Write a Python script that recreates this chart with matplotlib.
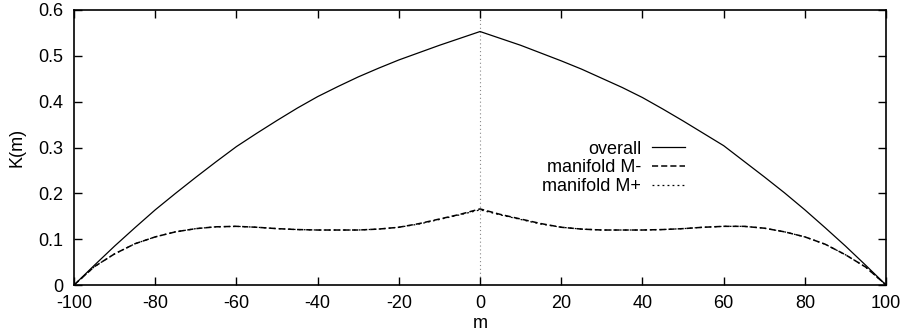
import matplotlib
matplotlib.use("Agg")
import matplotlib.pyplot as plt

plt.rcParams['font.family'] = ['Liberation Sans', 'DejaVu Sans']
plt.rcParams['font.size'] = 13
plt.rcParams['axes.unicode_minus'] = False

# K(m) sampled every 5 units of m
m = list(range(-100, 101, 5))

k_overall = [0.000, 0.043, 0.085, 0.125, 0.164, 0.200, 0.235, 0.269, 0.302, 0.331,
             0.359, 0.386, 0.411, 0.433, 0.454, 0.473, 0.491, 0.507, 0.523, 0.538,
             0.553,
             0.538, 0.523, 0.506, 0.489, 0.471, 0.451, 0.431, 0.409, 0.384, 0.358,
             0.331, 0.304, 0.270, 0.236, 0.201, 0.164, 0.125, 0.085, 0.043, 0.000]

k_minus = [0.000, 0.040, 0.068, 0.090, 0.105, 0.116, 0.123, 0.127, 0.128, 0.126,
           0.123, 0.121, 0.120, 0.120, 0.120, 0.122, 0.126, 0.134, 0.144, 0.154,
           0.166,
           0.154, 0.144, 0.134, 0.126, 0.122, 0.120, 0.120, 0.120, 0.121, 0.123,
           0.126, 0.128, 0.128, 0.124, 0.116, 0.105, 0.089, 0.066, 0.039, 0.000]

k_plus = [0.000, 0.040, 0.068, 0.090, 0.105, 0.116, 0.123, 0.127, 0.128, 0.126,
          0.123, 0.121, 0.120, 0.120, 0.120, 0.122, 0.126, 0.133, 0.143, 0.153,
          0.164,
          0.153, 0.143, 0.133, 0.126, 0.122, 0.120, 0.120, 0.120, 0.121, 0.123,
          0.126, 0.128, 0.128, 0.124, 0.116, 0.105, 0.089, 0.066, 0.039, 0.000]

labels = ['overall', 'manifold M-', 'manifold M+']

fig = plt.figure(figsize=(9.06, 3.33), dpi=100)
ax = fig.add_axes([0.0817, 0.1441, 0.8963, 0.8259])

# zero axis
ax.axvline(0, color='#888888', lw=0.8, ls=(0, (1, 2.5)), zorder=1)

ax.plot(m, k_overall, color='black', lw=0.9, label=labels[0])
ax.plot(m, k_minus, color='black', lw=1.1, ls=(0, (4, 2)), label=labels[1])
ax.plot(m, k_plus, color='black', lw=0.9, ls=(0, (1.5, 2.5)), label=labels[2])

ax.set_xlim(-100, 100)
ax.set_ylim(0, 0.6)
ax.set_xticks(range(-100, 101, 20))
ax.set_yticks([0, 0.1, 0.2, 0.3, 0.4, 0.5, 0.6])
ax.set_yticklabels(['0', '0.1', '0.2', '0.3', '0.4', '0.5', '0.6'])
ax.tick_params(direction='in', length=6, width=1.0, top=True, right=True)
ax.tick_params(axis='y', pad=8)
ax.tick_params(axis='x', pad=7)
for s in ax.spines.values():
    s.set_linewidth(1.2)

ax.set_xlabel('m', labelpad=2)
ax.set_ylabel('K(m)', labelpad=9)

leg = ax.legend(loc='upper right', bbox_to_anchor=(0.752, 0.525), frameon=False,
                markerfirst=False, handlelength=1.8, handletextpad=0.6,
                labelspacing=0.1, borderpad=0, borderaxespad=0, fontsize=13)
# right-align entries like a gnuplot key
leg._legend_handle_box.get_children()[0].align = 'right'

fig.savefig('out.png', dpi=100)
